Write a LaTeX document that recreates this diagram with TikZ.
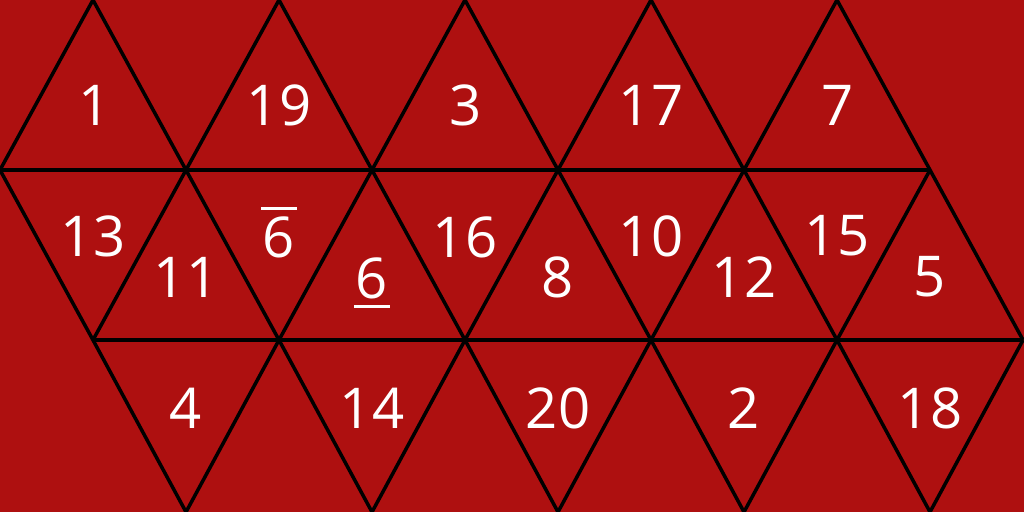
\documentclass[tikz,border=0pt]{standalone}
\usepackage{fontspec}
\setmainfont{Open Sans}
\usetikzlibrary{positioning}
\definecolor{dieRed}{HTML}{AE1010}
\begin{document}
\begin{tikzpicture}[
    x=0.01cm, y=-0.01cm,
    edge/.style={black, line width=1pt, line join=round},
    face/.style={text=white, inner sep=0pt, font=\fontsize{16}{18}\selectfont}
]
\fill[dieRed] (0,0) rectangle (1024,512);
\useasboundingbox (0,0) rectangle (1024,512);

% top row
\foreach \i in {0,...,4}
  \draw[edge] (\i*186,170) -- (\i*186+93,0) -- (\i*186+186,170);
\draw[edge] (0,170) -- (930,170);
% middle zigzag
\draw[edge] (0,170) -- (93,340) -- (186,170) -- (279,340) -- (372,170) -- (465,340)
  -- (558,170) -- (651,340) -- (744,170) -- (837,340) -- (930,170) -- (1023,340);
\draw[edge] (93,340) -- (1023,340);
% bottom row
\foreach \i in {0,...,4}
  \draw[edge] (\i*186+93,340) -- (\i*186+186,512) -- (\i*186+279,340);

\node[face] (f1)  at (95,105)  {1};
\node[face] (f19) at (279,105) {19};
\node[face] (f3)  at (466,105) {3};
\node[face] (f17) at (651,105) {17};
\node[face] (f7)  at (838,105) {7};

\node[face] (f13) at (93,236)  {13};
\node[face] (f9)  at (279,237) {6};
\node[face] (f16) at (465,237) {16};
\node[face] (f10) at (651,236) {10};
\node[face] (f15) at (837,236) {15};

\node[face] (f11) at (186,277) {11};
\node[face] (f6)  at (372,278) {6};
\node[face] (f8)  at (558,277) {8};
\node[face] (f12) at (744,277) {12};
\node[face] (f5)  at (930,277) {5};

\node[face] (f4)  at (186,408) {4};
\node[face] (f14) at (372,408) {14};
\node[face] (f20) at (558,408) {20};
\node[face] (f2)  at (744,408) {2};
\node[face] (f18) at (930,408) {18};

% marks for 6 and 9
\draw[white, line width=0.7pt] ([xshift=-5pt, yshift=2pt]f9.north) -- ([xshift=5pt, yshift=2pt]f9.north);
\draw[white, line width=0.7pt] ([xshift=-5pt, yshift=-2pt]f6.south) -- ([xshift=5pt, yshift=-2pt]f6.south);
\end{tikzpicture}
\end{document}
